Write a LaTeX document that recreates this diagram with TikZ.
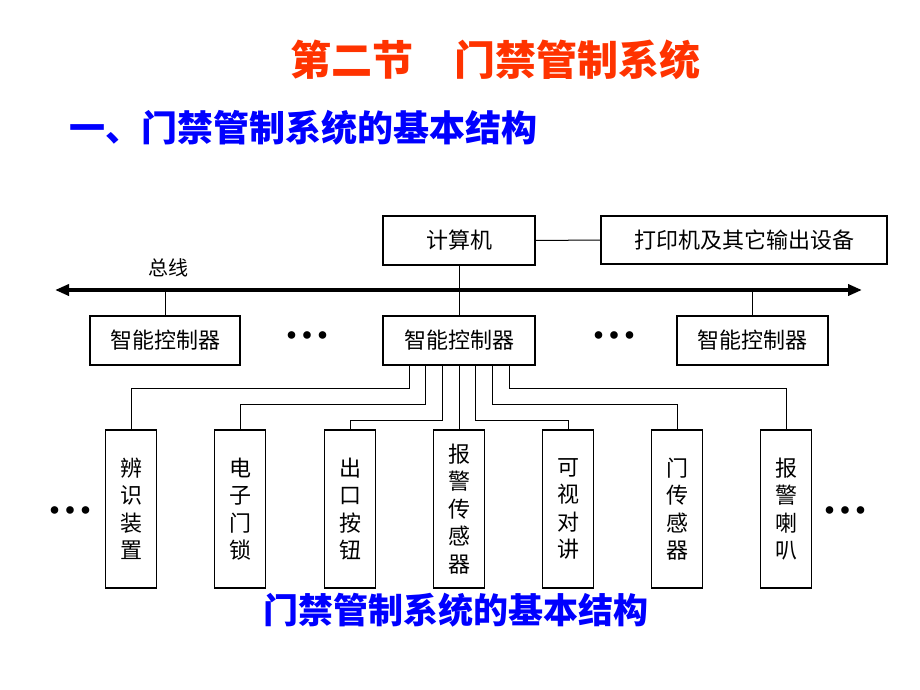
\documentclass[tikz,border=0pt]{standalone}
\usepackage{fontspec}
\usetikzlibrary{arrows.meta,positioning}
\newfontfamily\cjk{Noto Sans CJK SC}
\definecolor{ttred}{HTML}{FF3300}
\definecolor{ttblue}{HTML}{0000FF}
\newcommand{\fsz}[1]{\fontsize{#1}{#1}\selectfont}
\newcommand{\tridots}{\textbullet\kern-9pt\textbullet\kern-9pt\textbullet}

\begin{document}
\begin{tikzpicture}[
  x=1pt, y=-1pt,
  font=\cjk,
  box/.style={draw, line width=1.3pt, align=center, inner sep=2pt, font=\cjk\fsz{22}},
  hbox/.style={box, minimum height=49pt},
  vbox/.style={box, minimum width=51pt, minimum height=158pt, font=\cjk\fontsize{22}{27.5}\selectfont},
  wire/.style={line width=1pt},
  bus/.style={line width=3.6pt, {Triangle[length=14pt,width=11pt]}-{Triangle[length=14pt,width=11pt]}},
  dots/.style={font=\fsz{34}},
]
\useasboundingbox (0,0) rectangle (920,690);

% titles
\node[text=ttred, font=\cjk\bfseries\fsz{41}] (title) at (495,60) {第二节　门禁管制系统};
\node[text=ttblue, font=\cjk\bfseries\fsz{36}, anchor=west] (sub) at (66,128) {一、门禁管制系统的基本结构};
\node[text=ttblue, font=\cjk\bfseries\fsz{35}] (cap) at (456,610) {门禁管制系统的基本结构};

% computer and printer
\node[hbox, minimum width=152pt] (comp) at (459,240.5) {计算机};
\node[hbox, minimum width=286pt, minimum height=48pt] (prn) at (744,240) {打印机及其它输出设备};
\draw[wire] (comp.east) -- (prn.west);

% bus
\coordinate (busL) at (55,290);
\coordinate (busR) at (862,290);
\draw[bus] (busL) -- (busR);
\node[font=\cjk\fsz{20}] (buslbl) at (168,268) {总线};

% intelligent controllers
\node[hbox, minimum width=150pt] (ctrlL) at (165,340.5) {智能控制器};
\node[hbox, minimum width=152pt] (ctrlC) at (459,340.5) {智能控制器};
\node[hbox, minimum width=151pt] (ctrlR) at (752.5,340.5) {智能控制器};
\node[dots] (dotsL) at (307,338) {\tridots};
\node[dots] (dotsR) at (614,338) {\tridots};
\draw[wire] (ctrlL.north) -- (ctrlL.north |- busL);
\draw[wire] (ctrlR.north) -- (ctrlR.north |- busL);
\draw[wire] (comp.south) -- (ctrlC.north);

% field devices
\node[vbox] (d1) at (131,509) {辨\\识\\装\\置};
\node[vbox] (d2) at (240,509) {电\\子\\门\\锁};
\node[vbox] (d3) at (350,509) {出\\口\\按\\钮};
\node[vbox] (d4) at (459,509) {报\\警\\传\\感\\器};
\node[vbox] (d5) at (568,509) {可\\视\\对\\讲};
\node[vbox] (d6) at (677,509) {门\\传\\感\\器};
\node[vbox] (d7) at (786,509) {报\\警\\喇\\叭};
\node[dots] (dotsB1) at (70,513) {\tridots};
\node[dots] (dotsB2) at (845,513) {\tridots};

% controller to devices
\foreach \d/\dx/\dy in {d1/-50/41, d2/-33.3/25, d3/-16.7/9, d5/16.7/9, d6/33.3/25, d7/50/41}
  \draw[wire] ([xshift=\dx pt]ctrlC.south) |- ([yshift=\dy pt]\d.north) -- (\d.north);
\draw[wire] (ctrlC.south) -- (d4.north);
\end{tikzpicture}
\end{document}
